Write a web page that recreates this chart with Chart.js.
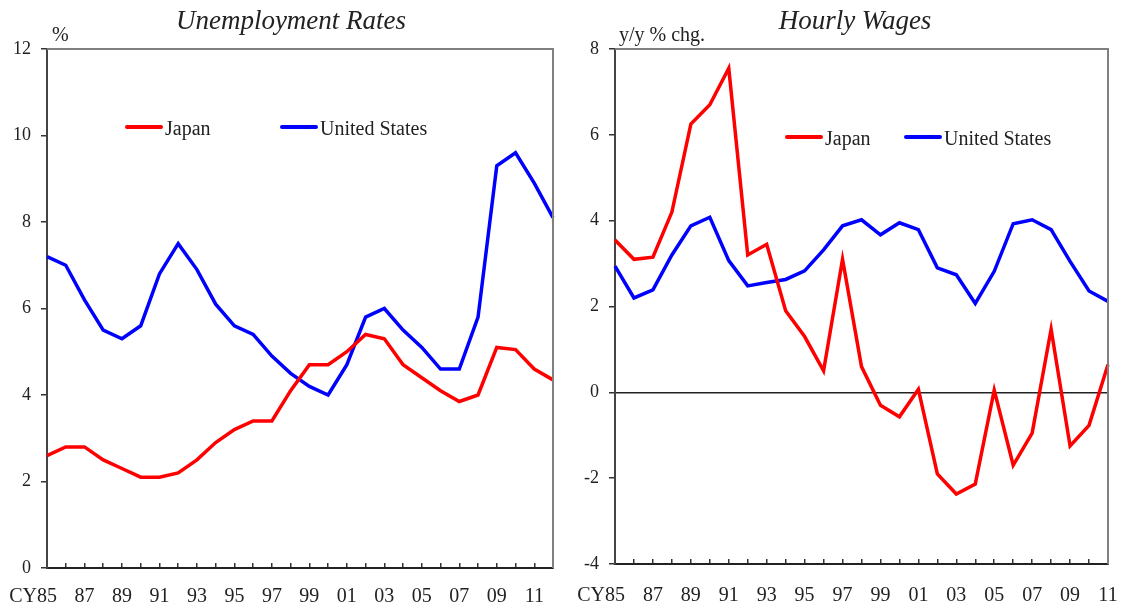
<!DOCTYPE html>
<html>
<head>
<meta charset="utf-8">
<title>Unemployment Rates / Hourly Wages</title>
<script src="https://cdn.jsdelivr.net/npm/chart.js@4.4.1/dist/chart.umd.min.js"></script>
<style>
  html, body { margin: 0; padding: 0; background: #fff; }
  #wrap { position: relative; width: 1121px; height: 610px; }
  #unemp { position: absolute; left: 0; top: 0; }
  #wages { position: absolute; left: 560px; top: 0; }
</style>
</head>
<body>
<div id="wrap">
  <canvas id="unemp" width="560" height="610"></canvas>
  <canvas id="wages" width="561" height="610"></canvas>
</div>
<script>
// Unemployment rates, CY1985-2012 (%)
const unempYears = [1985, 1986, 1987, 1988, 1989, 1990, 1991, 1992, 1993, 1994, 1995, 1996, 1997, 1998,
  1999, 2000, 2001, 2002, 2003, 2004, 2005, 2006, 2007, 2008, 2009, 2010, 2011, 2012];
const japanUnemp = [2.6, 2.8, 2.8, 2.5, 2.3, 2.1, 2.1, 2.2, 2.5, 2.9, 3.2, 3.4, 3.4, 4.1,
  4.7, 4.7, 5.0, 5.4, 5.3, 4.7, 4.4, 4.1, 3.85, 4.0, 5.1, 5.05, 4.6, 4.35];
const usUnemp = [7.2, 7.0, 6.2, 5.5, 5.3, 5.6, 6.8, 7.5, 6.9, 6.1, 5.6, 5.4, 4.9, 4.5,
  4.2, 4.0, 4.7, 5.8, 6.0, 5.5, 5.1, 4.6, 4.6, 5.8, 9.3, 9.6, 8.9, 8.1];

// Hourly wages, CY1985-2011 (y/y % chg.)
const wageYears = [1985, 1986, 1987, 1988, 1989, 1990, 1991, 1992, 1993, 1994, 1995, 1996, 1997, 1998,
  1999, 2000, 2001, 2002, 2003, 2004, 2005, 2006, 2007, 2008, 2009, 2010, 2011];
const japanWage = [3.55, 3.1, 3.15, 4.2, 6.25, 6.7, 7.55, 3.2, 3.45, 1.9, 1.3, 0.5, 3.1, 0.6,
  -0.3, -0.57, 0.07, -1.9, -2.37, -2.14, 0.05, -1.7, -0.95, 1.47, -1.25, -0.77, 0.65];
const usWage = [2.94, 2.2, 2.39, 3.2, 3.88, 4.08, 3.07, 2.48, 2.56, 2.63, 2.83, 3.32, 3.88, 4.02,
  3.67, 3.95, 3.79, 2.9, 2.74, 2.07, 2.82, 3.93, 4.02, 3.79, 3.05, 2.36, 2.12];

const seriesNames = ['Japan', 'United States'];
const seriesColors = ['#ff0000', '#0000ff'];

const SERIF = "'Liberation Serif', 'Times New Roman', serif";
Chart.defaults.font.family = SERIF;
Chart.defaults.color = '#222';

// titles, unit label, "CY" prefix, frame and in-plot legend
const decor = {
  id: 'decor',
  afterDraw(chart, args, opts) {
    const { ctx, chartArea } = chart;
    const xs = chart.scales.x;
    ctx.save();

    // grey frame on top and right
    ctx.strokeStyle = '#808080';
    ctx.lineWidth = 2;
    ctx.beginPath();
    ctx.moveTo(chartArea.left, chartArea.top);
    ctx.lineTo(chartArea.right, chartArea.top);
    ctx.lineTo(chartArea.right, chartArea.bottom);
    ctx.stroke();

    ctx.fillStyle = '#222';
    ctx.textBaseline = 'alphabetic';

    ctx.font = 'italic 27px ' + SERIF;
    ctx.textAlign = 'center';
    ctx.fillText(opts.title, opts.titleX, 29);

    ctx.font = '20px ' + SERIF;
    ctx.textAlign = 'left';
    ctx.fillText(opts.unit, opts.unitX, 41);

    // "CY" in front of the first year label
    ctx.font = '20px ' + SERIF;
    ctx.textAlign = 'right';
    ctx.textBaseline = 'middle';
    const x0 = xs.getPixelForValue(0);
    const w = ctx.measureText('85').width;
    ctx.fillText('CY', x0 - w / 2, xs.top - 5 + opts.labelLine / 2);

    // legend
    ctx.textBaseline = 'alphabetic';
    ctx.textAlign = 'left';
    ctx.lineCap = 'round';
    chart.data.datasets.forEach((ds, i) => {
      const lx = opts.legendX[i];
      ctx.strokeStyle = ds.borderColor;
      ctx.lineWidth = 4;
      ctx.beginPath();
      ctx.moveTo(lx, opts.legendY);
      ctx.lineTo(lx + 34, opts.legendY);
      ctx.stroke();
      ctx.fillStyle = '#222';
      ctx.fillText(ds.label, lx + 38, opts.legendY + 8);
    });
    ctx.restore();
  }
};

function makeChart(canvas, cfg) {
  return new Chart(canvas.getContext('2d'), {
    type: 'line',
    data: {
      labels: cfg.years,
      datasets: cfg.series.map((vals, i) => ({
        label: seriesNames[i],
        data: vals,
        borderColor: seriesColors[i],
        backgroundColor: seriesColors[i],
        borderWidth: 3.5,
        pointRadius: 0,
        tension: 0,
      })),
    },
    options: {
      responsive: false,
      animation: false,
      layout: { padding: { top: 49, right: cfg.padRight, left: 0, bottom: 0 } },
      plugins: {
        legend: { display: false },
        tooltip: { enabled: false },
        decor: cfg.decor,
      },
      scales: {
        x: {
          offset: false,
          afterFit: (scale) => { scale.height = cfg.xHeight; },
          grid: { drawOnChartArea: false, tickLength: -5, color: '#333', lineWidth: 1.5 },
          border: { color: '#222', width: 2 },
          ticks: {
            autoSkip: false,
            maxRotation: 0,
            padding: 0,
            // tall line box pushes the labels down without adding side padding
            font: { size: 20, lineHeight: cfg.decor.labelLine + 'px' },
            callback: (v, i) => (i % 2 === 0 ? String(cfg.years[i]).slice(2) : ''),
          },
        },
        y: {
          min: cfg.yMin,
          max: cfg.yMax,
          afterFit: (scale) => { scale.width = cfg.yWidth; },
          grid: {
            drawOnChartArea: cfg.zeroLine,
            tickLength: 6,
            tickColor: '#333',
            lineWidth: 1.5,
            color: (c) => (c.tick && c.tick.value === 0 ? '#222' : 'rgba(0,0,0,0)'),
          },
          border: { color: '#444', width: 2 },
          ticks: { stepSize: 2, padding: 10, font: { size: 18 } },
        },
      },
    },
    plugins: [decor],
  });
}

makeChart(document.getElementById('unemp'), {
  years: unempYears,
  series: [japanUnemp, usUnemp],
  yMin: 0, yMax: 12,
  yWidth: 47, xHeight: 42, padRight: 7, zeroLine: false,
  decor: { title: 'Unemployment Rates', titleX: 291, unit: '%', unitX: 52,
    labelLine: 68, legendX: [127, 282], legendY: 127 },
});

makeChart(document.getElementById('wages'), {
  years: wageYears,
  series: [japanWage, usWage],
  yMin: -4, yMax: 8,
  yWidth: 55, xHeight: 46, padRight: 13, zeroLine: true,
  decor: { title: 'Hourly Wages', titleX: 295, unit: 'y/y % chg.', unitX: 59,
    labelLine: 74, legendX: [227, 346], legendY: 137 },
});
</script>
</body>
</html>
